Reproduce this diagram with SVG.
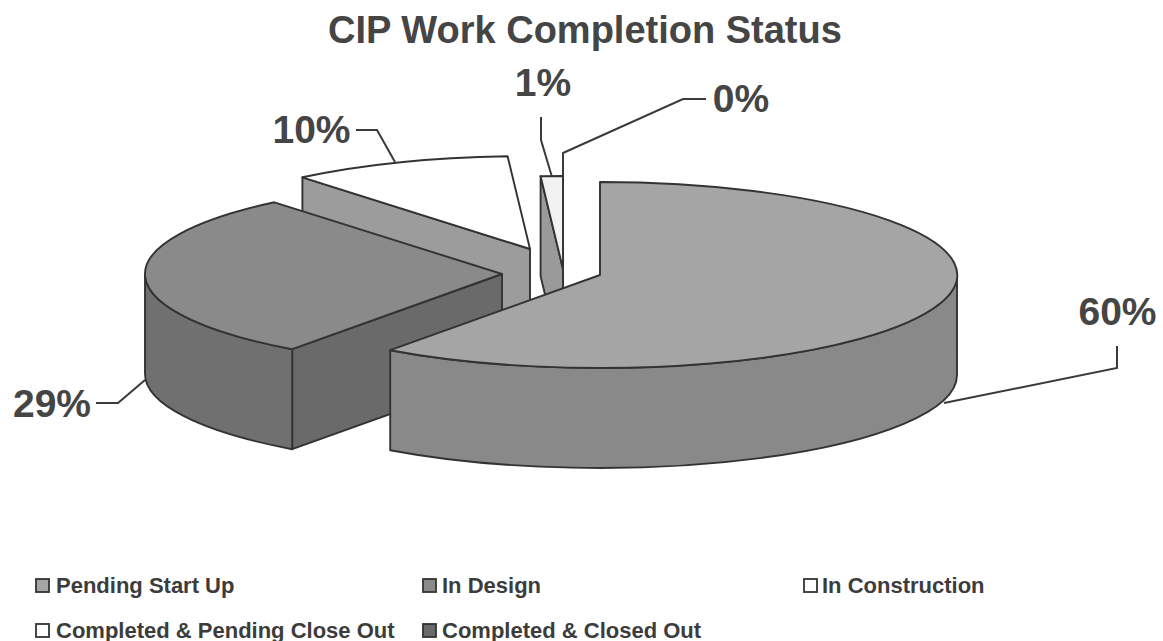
<svg xmlns="http://www.w3.org/2000/svg" width="1163" height="641" viewBox="0 0 1163 641">
<style>
  .edge { stroke: #333; stroke-width: 1.9; stroke-linejoin: round; }
  .lead { fill: none; stroke: #3a3a3a; stroke-width: 2; stroke-linejoin: miter; }
  .title { font-family: "Liberation Sans", Arial, sans-serif; font-weight: bold; font-size: 38px; fill: #454545; }
  .pct { font-family: "Liberation Sans", Arial, sans-serif; font-weight: bold; font-size: 39px; fill: #454545; }
  .leg { font-family: "Liberation Sans", Arial, sans-serif; font-weight: bold; font-size: 22px; fill: #3c3c3c; }
  .sw { stroke: #333; stroke-width: 1.8; }
</style>
<rect width="1163" height="641" fill="#ffffff"/>
<text class="title" x="585" y="43" text-anchor="middle">CIP Work Completion Status</text>

<g id="slice-0">
  <path class="edge" fill="#f4f4f4" d="M563,246 L563,153 L563,253 L563,346 Z"/>
</g>
<g id="slice-1">
  <path class="edge" fill="#9a9a9a" d="M563,269 L540.6,176.2 L540.6,276.2 L563,369 Z"/>
  <path class="edge" fill="#f2f2f2" d="M563,269 L540.6,176.2 A357,93 0 0,1 563,176 Z"/>
</g>
<g id="slice-10">
  <path class="edge" fill="#9c9c9c" d="M530,249 L302.4,177.3 L302.4,277.3 L530,349 Z"/>
  <path class="edge" fill="#ffffff" d="M530,249 L302.4,177.3 A357,93 0 0,1 507.6,156.2 Z"/>
</g>
<g id="slice-29">
  <path class="edge" fill="#6a6a6a" d="M502,274 L292.2,349.2 L292.2,449.2 L502,374 Z"/>
  <path class="edge" fill="#707070" d="M292.2,349.2 A357,93 0 0,1 145,274 L145,374 A357,93 0 0,0 292.2,449.2 Z"/>
  <path class="edge" fill="#8a8a8a" d="M502,274 L292.2,349.2 A357,93 0 0,1 274.4,202.3 Z"/>
</g>
<g id="slice-60">
  <path class="edge" fill="#898989" d="M957,275 A357,93 0 0,1 390.2,350.2 L390.2,450.2 A357,93 0 0,0 957,375 Z"/>
  <path class="edge" fill="#a5a5a5" d="M600,275 L600,182 A357,93 0 1,1 390.2,350.2 Z"/>
</g>

<g id="connectors">
  <path class="lead" d="M944,403 L1117,368 L1117,346"/>
  <path class="lead" d="M145,380 L118,403 L96,403"/>
  <path class="lead" d="M395,162 L377,130 L356,130"/>
  <path class="lead" d="M552,177 L541,140 L541,117"/>
  <path class="lead" d="M563,153 L683,99 L706,99"/>
</g>

<g id="labels">
  <text class="pct" x="1117.5" y="325" text-anchor="middle">60%</text>
  <text class="pct" x="52" y="417" text-anchor="middle">29%</text>
  <text class="pct" x="311.5" y="143" text-anchor="middle">10%</text>
  <text class="pct" x="543" y="96" text-anchor="middle">1%</text>
  <text class="pct" x="741" y="112" text-anchor="middle">0%</text>
</g>

<g id="legend">
  <g id="leg-pending">
    <rect class="sw" x="36" y="579" width="13" height="13" fill="#a5a5a5"/>
    <text class="leg" x="56" y="593">Pending Start Up</text>
  </g>
  <g id="leg-design">
    <rect class="sw" x="423" y="579" width="13" height="13" fill="#8a8a8a"/>
    <text class="leg" x="442" y="593">In Design</text>
  </g>
  <g id="leg-construction">
    <rect class="sw" x="804" y="579" width="13" height="13" fill="#ffffff"/>
    <text class="leg" x="822" y="593">In Construction</text>
  </g>
  <g id="leg-pending-close">
    <rect class="sw" x="36" y="624" width="13" height="13" fill="#ffffff"/>
    <text class="leg" x="56" y="638">Completed &amp; Pending Close Out</text>
  </g>
  <g id="leg-closed">
    <rect class="sw" x="423" y="624" width="13" height="13" fill="#6a6a6a"/>
    <text class="leg" x="442" y="638">Completed &amp; Closed Out</text>
  </g>
</g>
</svg>
